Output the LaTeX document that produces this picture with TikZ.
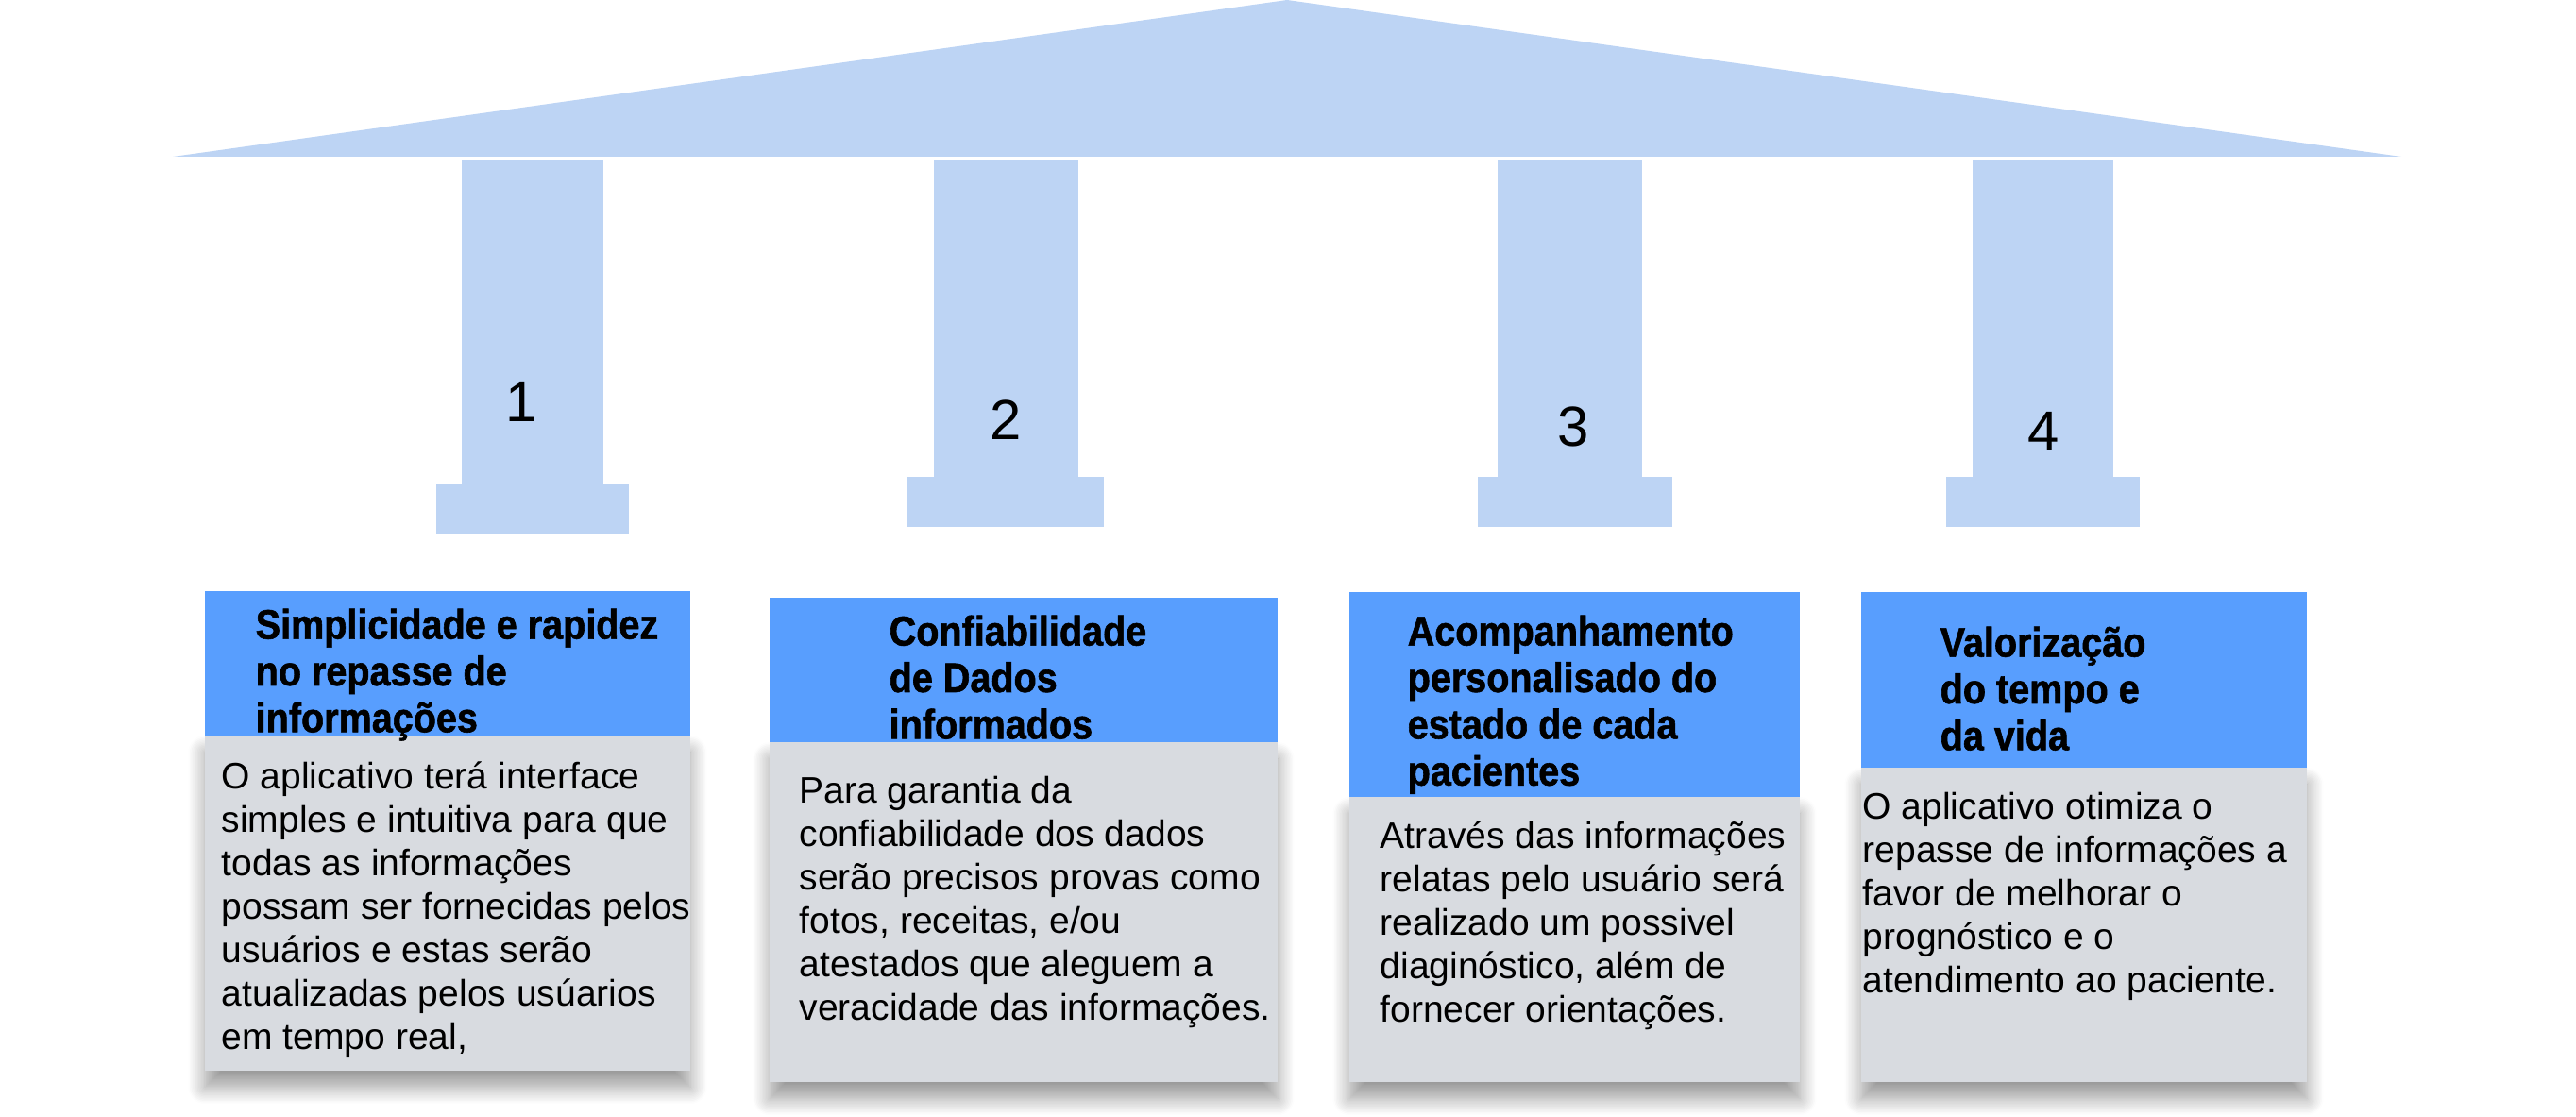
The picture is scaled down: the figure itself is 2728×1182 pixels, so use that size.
\documentclass[tikz,border=0pt]{standalone}
\usepackage{fontspec}
\setmainfont{Liberation Sans}
\newfontfamily\headfont{Liberation Sans}[FakeStretch=0.9, BoldFeatures={FakeBold=1.3}]
\usetikzlibrary{shadows.blur}

\definecolor{pillarblue}{HTML}{BDD4F4}
\definecolor{headblue}{HTML}{589EFE}
\definecolor{bodygray}{HTML}{D8DBE0}

\begin{document}
\begin{tikzpicture}[x=0.01cm, y=-0.01cm,
    pillar/.style={fill=pillarblue},
    headbox/.style={fill=headblue},
    bodybox/.style={fill=bodygray, blur shadow={shadow xshift=0pt, shadow yshift=-5pt,
        shadow blur radius=5pt, shadow blur steps=12, shadow opacity=40}},
    num/.style={font=\fontsize{17}{20}\selectfont, inner sep=0pt},
    heading/.style={font=\headfont\fontsize{12.5}{14.05}\selectfont\bfseries, align=left, inner sep=0pt, anchor=north west},
    desc/.style={font=\fontsize{11.1}{13.1}\selectfont, align=left, inner sep=0pt, anchor=north west}]
    \useasboundingbox (0,0) rectangle (2728,1182);

    % roof
    \fill[pillar] (183,166) -- (1363,0) -- (2543,166) -- cycle;

    % pillars
    \fill[pillar] (489,169) rectangle (639,513);
    \fill[pillar] (462,513) rectangle (666,566);
    \node[num] (N1) at (552,426) {1};

    \fill[pillar] (989,169) rectangle (1142,505);
    \fill[pillar] (961,505) rectangle (1169,558);
    \node[num] (N2) at (1065,445) {2};

    \fill[pillar] (1586,169) rectangle (1739,505);
    \fill[pillar] (1565,505) rectangle (1771,558);
    \node[num] (N3) at (1666,452) {3};

    \fill[pillar] (2089,169) rectangle (2238,505);
    \fill[pillar] (2061,505) rectangle (2266,558);
    \node[num] (N4) at (2164,457) {4};

    % boxes
    \fill[bodybox] (217,779) rectangle (731,1134);
    \fill[headbox] (217,626) rectangle (731,779);
    \node[heading] (T1) at (270,644) {Simplicidade e rapidez\\no repasse de\\informações};
    \node[desc] (D1) at (234,806) {O aplicativo terá interface\\simples e intuitiva para que\\todas as informações\\possam ser fornecidas pelos\\usuários e estas serão\\atualizadas pelos usúarios\\em tempo real,};

    \fill[bodybox] (815,786) rectangle (1353,1146);
    \fill[headbox] (815,633) rectangle (1353,786);
    \node[heading] (T2) at (941,651) {Confiabilidade\\de Dados\\informados};
    \node[desc] (D2) at (846,821) {Para garantia da\\confiabilidade dos dados\\serão precisos provas como\\fotos, receitas, e/ou\\atestados que aleguem a\\veracidade das informações.};

    \fill[bodybox] (1429,844) rectangle (1906,1146);
    \fill[headbox] (1429,627) rectangle (1906,844);
    \node[heading] (T3) at (1490,651) {Acompanhamento\\personalisado do\\estado de cada\\pacientes};
    \node[desc] (D3) at (1461,869) {Através das informações\\relatas pelo usuário será\\realizado um possivel\\diaginóstico, além de\\fornecer orientações.};

    \fill[bodybox] (1971,813) rectangle (2443,1146);
    \fill[headbox] (1971,627) rectangle (2443,813);
    \node[heading] (T4) at (2054,663) {Valorização\\do tempo e\\da vida};
    \node[desc] (D4) at (1972,838) {O aplicativo otimiza o\\repasse de informações a\\favor de melhorar o\\prognóstico e o\\atendimento ao paciente.};

\end{tikzpicture}
\end{document}
